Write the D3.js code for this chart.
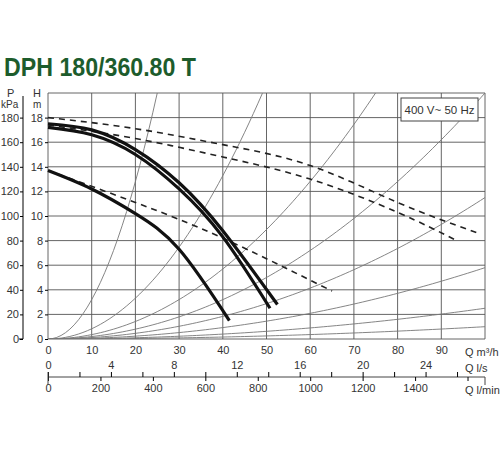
<!DOCTYPE html>
<html><head><meta charset="utf-8">
<script src="https://cdn.jsdelivr.net/npm/d3@7"></script>
<style>body{margin:0;background:#fff}text{font-family:"Liberation Sans",Arial,sans-serif;fill:#333}</style>
</head><body><div id="chart"></div>
<script>
// pump curves, Q in m3/h, H in m
var curveA = [[0,17.5],[10,17.0],[20,15.4],[30,12.7],[40,8.8],[52.5,2.8]];
var curveB = [[0,17.2],[10,16.6],[20,15.0],[30,12.2],[40,8.3],[50.8,2.5]];
var curveC = [[0,13.7],[10,12.2],[20,10.2],[30,7.3],[41.5,1.5]];
var dashA = [[0,18],[20,17.1],[40,15.8],[60,14.1],[80,11.1],[98.5,8.6]];
var dashB = [[0,17.4],[20,16.3],[40,14.8],[60,13.0],[80,10.3],[93.5,8.0]];
var dashC = [[0,13.7],[20,11.1],[40,8.2],[65,3.9]];
var systemK = [0.032, 0.0083, 0.00356, 0.002, 0.00115, 0.00058, 0.00025, 0.0001];
var qTicks = [0,10,20,30,40,50,60,70,80,90];
var hTicks = [0,2,4,6,8,10,12,14,16,18];
var pTicks = [0,20,40,60,80,100,120,140,160,180];
var lsTicks = [0,4,8,12,16,20,24];
var lminTicks = [0,200,400,600,800,1000,1200,1400];

var W = 500, H = 450;
var svg = d3.select("#chart").append("svg").attr("width", W).attr("height", H);

var x = d3.scaleLinear().domain([0,100]).range([48,485]);
var y = d3.scaleLinear().domain([0,20]).range([339,93]);
var xls = d3.scaleLinear().domain([0,100/3.6]).range([48,485]);
var xlm = d3.scaleLinear().domain([0,6000/3.6]).range([48,485]);
var yp = d3.scaleLinear().domain([0,200]).range([339,93]);

svg.append("text").attr("x",4).attr("y",76).text("DPH 180/360.80 T")
  .attr("textLength",192).attr("lengthAdjust","spacingAndGlyphs")
  .style("fill","#1d5c2c").style("font-weight","bold").style("font-size","26px");

// grid
var g = svg.append("g");
g.selectAll(".vg").data(d3.range(0,101,10)).enter().append("line")
  .attr("x1",d=>x(d)).attr("x2",d=>x(d)).attr("y1",y(0)).attr("y2",y(20))
  .attr("stroke","#555").attr("stroke-width",0.9);
g.selectAll(".hg").data(d3.range(0,21,2)).enter().append("line")
  .attr("x1",x(0)).attr("x2",x(100)).attr("y1",d=>y(d)).attr("y2",d=>y(d))
  .attr("stroke","#555").attr("stroke-width",0.9);

// system curves
svg.append("clipPath").attr("id","c").append("rect")
  .attr("x",x(0)).attr("y",y(20)).attr("width",x(100)-x(0)).attr("height",y(0)-y(20));
var line = d3.line().x(d=>x(d[0])).y(d=>y(d[1])).curve(d3.curveNatural);
systemK.forEach(function(k){
  var pts = d3.range(0,100.5,1).map(q=>[q,k*q*q]);
  svg.append("path").attr("clip-path","url(#c)").attr("d",d3.line().x(d=>x(d[0])).y(d=>y(d[1]))(pts))
    .attr("fill","none").attr("stroke","#777").attr("stroke-width",0.9);
});

[dashA,dashB,dashC].forEach(function(d){
  svg.append("path").attr("d",line(d)).attr("fill","none").attr("stroke","#222")
    .attr("stroke-width",1.6).attr("stroke-dasharray","6,5");
});
[curveA,curveB,curveC].forEach(function(d){
  svg.append("path").attr("d",line(d)).attr("fill","none").attr("stroke","#111")
    .attr("stroke-width",3.2);
});

// axes
svg.append("g").attr("transform","translate(0,"+y(0)+")")
  .call(d3.axisBottom(x).tickValues(qTicks).tickSize(0).tickPadding(7))
  .call(a=>a.select(".domain").remove()).selectAll("text").style("font-size","11px");
svg.append("text").attr("x",465).attr("y",356).style("font-size","11px").text("Q m³/h");

svg.append("g").attr("transform","translate("+x(0)+",0)")
  .call(d3.axisLeft(y).tickValues(hTicks).tickSize(3).tickPadding(2))
  .call(a=>a.select(".domain").remove()).selectAll("text").style("font-size","11px");
svg.append("text").attr("x",33).attr("y",97).style("font-size","11px").text("H");
svg.append("text").attr("x",33).attr("y",108).style("font-size","10px").text("m");

svg.append("g").attr("transform","translate(23,0)")
  .call(d3.axisLeft(yp).tickValues(pTicks).tickSize(3).tickPadding(1))
  .call(a=>a.select(".domain").attr("d","M0,96V339H-4"))
  .selectAll("text").style("font-size","11px");
svg.append("text").attr("x",7).attr("y",97).style("font-size","11px").text("P");
svg.append("text").attr("x",1).attr("y",108).style("font-size","10px").text("kPa");

var by = 377;
svg.append("line").attr("x1",x(0)).attr("x2",x(100)).attr("y1",by).attr("y2",by)
  .attr("stroke","#444");
svg.append("g").attr("transform","translate(0,"+by+")")
  .call(d3.axisTop(xls).tickValues(d3.range(0,28,2)).tickSize(5).tickFormat(d=>lsTicks.includes(d)?d:""))
  .call(a=>a.select(".domain").remove()).selectAll("text").style("font-size","11px");
svg.append("g").attr("transform","translate(0,"+by+")")
  .call(d3.axisBottom(xlm).tickValues(lminTicks.concat([1600])).tickSize(4).tickFormat(d=>lminTicks.includes(d)?d:""))
  .call(a=>a.select(".domain").remove()).selectAll("text").style("font-size","11px");
svg.append("line").attr("x1",x(0)).attr("x2",x(0)).attr("y1",by-5).attr("y2",by+8).attr("stroke","#444");
svg.append("line").attr("x1",x(100)).attr("x2",x(100)).attr("y1",by).attr("y2",by+8).attr("stroke","#444");
svg.append("text").attr("x",465).attr("y",372).style("font-size","11px").text("Q l/s");
svg.append("text").attr("x",465).attr("y",394).style("font-size","11px").text("Q l/min");

svg.append("rect").attr("x",401).attr("y",98).attr("width",77).attr("height",23)
  .attr("fill","#fff").attr("stroke","#444");
svg.append("text").attr("x",439.5).attr("y",114).attr("text-anchor","middle")
  .style("font-size","11.5px").text("400 V~ 50 Hz");
</script></body></html>
